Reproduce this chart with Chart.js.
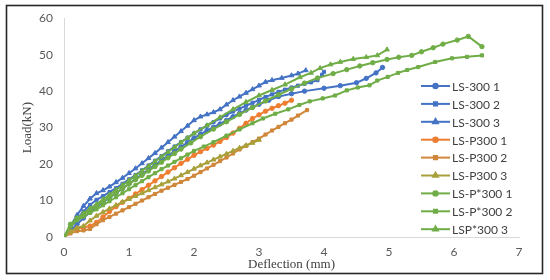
<!doctype html>
<html>
  <head>
    <title>Load vs deflection</title>
    <script src="https://cdn.jsdelivr.net/npm/chart.js@4.4.1/dist/chart.umd.min.js"></script>
    <style>
    body { margin: 0; background: #fff; }
    #wrap { width: 550px; height: 280px; }
    </style>
  </head>

  <body>
    <div id="wrap">
      <canvas id="canvas" width="550" height="280"></canvas>
    </div>

    <script>
      // LS-300 series
      const x_LS300_1 = [0,0.1,0.2,0.3,0.4,0.5,0.6,0.7,0.8,0.9,1.0,1.1,1.2,1.3,1.4,1.5,1.6,1.7,1.8,1.9,2.0,2.1,2.2,2.3,2.4,2.5,2.6,2.7,2.8,2.9,3.0,3.15,3.3,3.5,3.7,4.0,4.25,4.5,4.65,4.8,4.9];
      const y_LS300_1 = [0,1.8,3.5,5.2,6.8,8.2,9.5,10.8,12,13.3,14.6,15.9,17.2,18.5,19.8,21,22.3,23.5,24.7,25.9,27.1,28.2,29.2,30.1,31,32,33,33.9,34.8,35.6,36.4,37.5,38.5,39.3,40,40.8,41.5,42.3,43.5,45,46.5];
      const x_LS300_2 = [0,0.1,0.2,0.3,0.4,0.5,0.6,0.7,0.8,0.9,1.0,1.1,1.2,1.3,1.4,1.5,1.6,1.7,1.8,1.9,2.0,2.1,2.2,2.3,2.4,2.5,2.6,2.7,2.8,2.9,3.0,3.1,3.2,3.3,3.4,3.5,3.6,3.7,3.8,3.9,3.97,4.0];
      const y_LS300_2 = [0,2.5,5,7,8.8,10.2,11.2,12.3,13.4,14.6,15.8,17,18.3,19.6,20.9,22.2,23.5,24.8,26,27.2,28.4,29.5,30.5,31.5,32.5,33.5,34.4,35.2,36,36.8,37.6,38.4,39.1,39.8,40.4,41,41.5,42,42.4,43,44.5,45.3];
      const x_LS300_3 = [0,0.1,0.2,0.3,0.4,0.5,0.6,0.7,0.8,0.9,1.0,1.1,1.2,1.3,1.4,1.5,1.6,1.7,1.8,1.9,2.0,2.1,2.2,2.3,2.4,2.5,2.6,2.7,2.8,2.9,3.0,3.1,3.2,3.35,3.5,3.6,3.72];
      const y_LS300_3 = [0,3,6,8.5,10.5,12,12.8,13.8,15,16.2,17.5,18.8,20.2,21.6,23,24.5,26,27.5,29,30.5,32,33,33.6,34.2,35,36.3,37.5,38.5,39.5,40.5,41.5,42.5,43,43.6,44.3,44.8,45.7];

      // LS-P300 series
      const x_LSP300_1 = [0,0.1,0.2,0.3,0.4,0.5,0.6,0.7,0.8,0.9,1.0,1.1,1.2,1.3,1.4,1.5,1.6,1.7,1.8,1.9,2.0,2.1,2.2,2.3,2.4,2.5,2.6,2.7,2.8,2.9,3.0,3.1,3.2,3.3,3.4,3.5];
      const y_LSP300_1 = [0,1.5,2.3,2.6,3,4,5.5,7,8.3,9.5,10.6,11.8,13,14.2,15.4,16.6,17.8,19,20.2,21.3,22.4,23.4,24.3,25.2,26.2,27.3,28.5,29.8,31.2,32.5,33.5,34.5,35.3,36,36.7,37.5];
      const x_LSP300_2 = [0,0.1,0.2,0.3,0.4,0.5,0.6,0.7,0.8,0.9,1.0,1.1,1.2,1.3,1.4,1.5,1.6,1.7,1.8,1.9,2.0,2.1,2.2,2.3,2.4,2.5,2.6,2.7,2.8,2.9,3.0,3.1,3.2,3.3,3.4,3.5,3.6,3.74];
      const y_LSP300_2 = [0,1,1.6,1.8,2.2,3.5,4.6,5.5,6.4,7.3,8.2,9.1,10,10.9,11.8,12.7,13.5,14.3,15.1,15.9,16.8,17.8,18.8,19.8,20.8,21.8,22.9,24,25,26,27,28.1,29.2,30.2,31.2,32.2,33.3,34.8];
      const x_LSP300_3 = [0,0.1,0.2,0.3,0.4,0.5,0.6,0.7,0.8,0.9,1.0,1.1,1.2,1.3,1.4,1.5,1.6,1.7,1.8,1.9,2.0,2.1,2.2,2.3,2.4,2.5,2.6,2.7,2.8,2.9,3.0];
      const y_LSP300_3 = [0,1.5,2.5,3,4.5,5.8,6.8,7.8,8.7,9.6,10.4,11.2,12,12.8,13.6,14.4,15.2,16,16.9,17.8,18.7,19.6,20.4,21.2,22,22.8,23.6,24.4,25.1,25.8,26.6];

      // LS-P*300 series
      const x_LSPs300_1 = [0,0.1,0.2,0.3,0.4,0.5,0.6,0.7,0.8,0.9,1.0,1.1,1.2,1.3,1.4,1.5,1.6,1.7,1.8,1.95,2.1,2.3,2.5,2.7,2.9,3.1,3.3,3.5,3.7,3.9,4.14,4.35,4.55,4.75,4.97,5.15,5.35,5.5,5.68,5.83,6.05,6.22,6.43];
      const y_LSPs300_1 = [0,3.5,5.2,6.2,7.3,8.5,9.7,10.9,12.1,13.3,14.5,15.7,16.9,18.1,19.3,20.5,21.7,22.9,24.1,25.8,27.5,29.6,31.6,33.6,35.5,37.3,39,40.6,42.2,43.6,44.8,45.9,46.9,47.8,48.7,49.3,49.8,50.8,51.9,52.9,54,55,52.2];
      const x_LSPs300_2 = [0,0.1,0.2,0.3,0.4,0.5,0.6,0.7,0.8,0.9,1.0,1.1,1.2,1.3,1.4,1.5,1.6,1.7,1.8,1.9,2.0,2.15,2.3,2.5,2.7,2.9,3.06,3.25,3.45,3.62,3.78,3.98,4.17,4.35,4.52,4.7,4.82,4.98,5.14,5.28,5.45,5.71,5.97,6.2,6.43];
      const y_LSPs300_2 = [0,3,4.6,5.6,6.6,7.6,8.7,9.8,10.9,12,13.1,14.2,15.3,16.4,17.5,18.6,19.6,20.6,21.6,22.6,23.6,24.8,26,27.8,29.5,31.2,32.5,33.8,35,36.2,37.2,38,38.8,40.2,41,41.6,42.9,43.9,45,45.8,46.6,48,49,49.4,49.8];
      const x_LSPs300_3 = [0,0.1,0.2,0.3,0.4,0.5,0.6,0.7,0.8,0.9,1.0,1.1,1.2,1.3,1.4,1.5,1.6,1.7,1.8,1.9,2.0,2.2,2.4,2.6,2.8,3.0,3.2,3.4,3.63,3.8,3.94,4.1,4.25,4.45,4.65,4.82,4.97];
      const y_LSPs300_3 = [0,3,5,6.5,7.8,9,10.3,11.6,12.9,14.2,15.5,16.8,18.1,19.4,20.7,22,23.3,24.6,25.9,27.2,28.4,30.6,32.8,35,37,38.8,40.3,41.8,43.8,45,46.3,47.3,48,48.8,49.3,49.8,51.4];

      const seriesNames = ['LS-300 1', 'LS-300 2', 'LS-300 3', 'LS-P300 1', 'LS-P300 2', 'LS-P300 3', 'LS-P*300 1', 'LS-P*300 2', 'LSP*300 3'];
      const seriesX = [x_LS300_1, x_LS300_2, x_LS300_3, x_LSP300_1, x_LSP300_2, x_LSP300_3, x_LSPs300_1, x_LSPs300_2, x_LSPs300_3];
      const seriesY = [y_LS300_1, y_LS300_2, y_LS300_3, y_LSP300_1, y_LSP300_2, y_LSP300_3, y_LSPs300_1, y_LSPs300_2, y_LSPs300_3];
      const seriesColors = ['#4472C4', '#4472C4', '#4472C4', '#ED7D31', '#D0873A', '#A8A03A', '#70AD47', '#70AD47', '#70AD47'];
      const seriesMarkers = ['circle', 'rect', 'triangle', 'circle', 'rect', 'triangle', 'circle', 'rect', 'triangle'];

      const xTicks = [0, 1, 2, 3, 4, 5, 6, 7];
      const yTicks = [0, 10, 20, 30, 40, 50, 60];

      const markerRadius = { circle: 2.2, rect: 2.2, triangle: 2.7 };

      let datasets = seriesNames.map(function(name, i) {
        return {
          label: name,
          data: seriesX[i].map((x, j) => ({ x: x, y: seriesY[i][j] })),
          showLine: true,
          borderColor: seriesColors[i],
          backgroundColor: seriesColors[i],
          borderWidth: 2,
          pointStyle: seriesMarkers[i],
          pointRadius: markerRadius[seriesMarkers[i]],
          pointBorderWidth: 1,
          tension: 0,
          order: seriesNames.length - i
        };
      });

      // legend drawn over the plot, like the original
      const overlayLegend = {
        id: 'overlayLegend',
        afterDraw(chart) {
          const ctx = chart.ctx;
          ctx.save();
          ctx.font = '12px Lato';
          ctx.textBaseline = 'middle';
          chart.data.datasets.forEach(function(ds, i) {
            let y = 86 + i * 17.9;
            ctx.strokeStyle = ds.borderColor;
            ctx.lineWidth = 2;
            ctx.beginPath();
            ctx.moveTo(421, y);
            ctx.lineTo(450, y);
            ctx.stroke();
            ctx.fillStyle = ds.backgroundColor;
            Chart.helpers.drawPoint(ctx, { pointStyle: ds.pointStyle, radius: ds.pointRadius, borderWidth: 1 }, 435.5, y);
            ctx.fill();
            ctx.fillStyle = '#404040';
            ctx.fillText(ds.label, 452, y + 1);
          });
          // frame round the figure
          ctx.strokeStyle = '#262626';
          ctx.lineWidth = 1.6;
          ctx.strokeRect(6.5, 5.5, 536, 268);
          ctx.restore();
        }
      };

      const config = {
        type: 'scatter',
        data: { datasets: datasets },
        options: {
          responsive: false,
          animation: false,
          layout: { padding: { left: 16, top: 13, right: 31, bottom: 7 } },
          plugins: {
            legend: { display: false },
            tooltip: { enabled: false }
          },
          scales: {
            x: {
              type: 'linear',
              min: 0,
              max: 7,
              afterBuildTicks: function(scale) { scale.ticks = xTicks.map(v => ({ value: v })); },
              afterFit: function(scale) { scale.height = 36; },
              grid: { display: false, drawTicks: false },
              border: { display: true, color: '#D9D9D9', width: 1 },
              ticks: { color: '#595959', font: { family: 'Lato', size: 12 }, padding: 8 },
              title: {
                display: true,
                text: 'Deflection (mm)',
                color: '#404040',
                font: { family: 'Liberation Serif', size: 13 },
                padding: { top: 0, bottom: 1 }
              }
            },
            y: {
              min: 0,
              max: 60,
              afterBuildTicks: function(scale) { scale.ticks = yTicks.map(v => ({ value: v })); },
              afterFit: function(scale) { scale.width = 48; },
              grid: { display: false, drawTicks: false },
              border: { display: true, color: '#D9D9D9', width: 1 },
              ticks: { color: '#595959', font: { family: 'Lato', size: 12 }, padding: 11 },
              title: {
                display: true,
                text: 'Load(kN)',
                color: '#404040',
                font: { family: 'Liberation Serif', size: 13 },
                padding: { top: 4, bottom: 0 }
              }
            }
          }
        },
        plugins: [overlayLegend]
      };

      window.onload = function() {
        let ctx = document.getElementById('canvas').getContext('2d');
        window.myChart = new Chart(ctx, config);
      };
    </script>
  </body>
</html>
